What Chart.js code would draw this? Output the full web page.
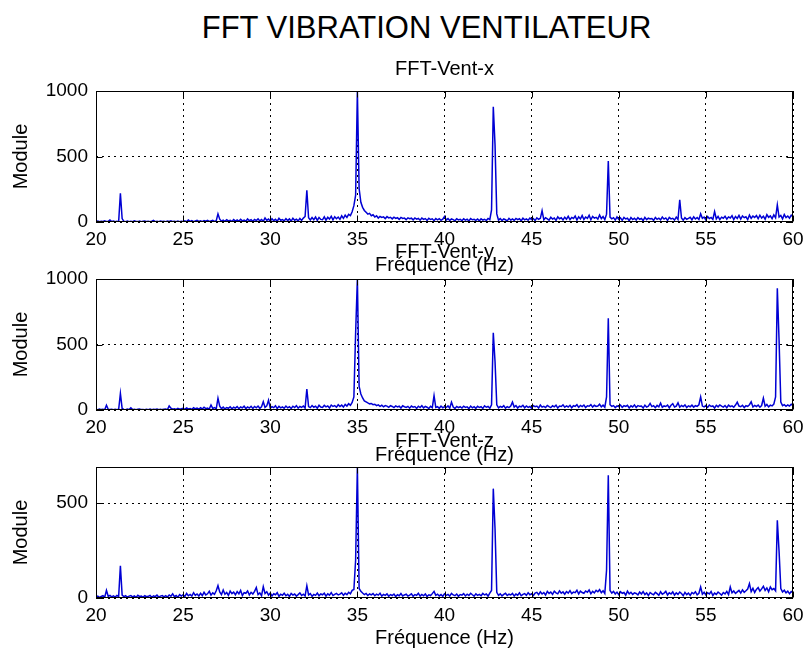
<!DOCTYPE html>
<html>
<head>
<meta charset="utf-8">
<script src="https://cdn.jsdelivr.net/npm/chart.js@4.4.1/dist/chart.umd.min.js"></script>
<style>
  body { margin: 0; background: #fff; }
  #wrap { position: relative; width: 803px; height: 655px; overflow: hidden; background: #fff; }
  #wrap canvas { position: absolute; left: 0; }
  #mainTitle { position: absolute; left: 0; top: 11px; width: 853px; text-align: center;
    font: 31px/34px 'Liberation Sans', Arial, sans-serif; color: #000; }
</style>
</head>
<body>
<div id="wrap">
  <div id="mainTitle">FFT VIBRATION VENTILATEUR</div>
  <canvas id="chartX" width="803" height="220" style="top:57px"></canvas>
  <canvas id="chartY" width="803" height="227" style="top:240px"></canvas>
  <canvas id="chartZ" width="803" height="221" style="top:429px"></canvas>
</div>
<script>
// frequency bins (Hz), one row per Hz
const freq = [
  20,20.1,20.2,20.3,20.4,20.5,20.6,20.7,20.8,20.9,
  21,21.1,21.2,21.3,21.4,21.5,21.6,21.7,21.8,21.9,
  22,22.1,22.2,22.3,22.4,22.5,22.6,22.7,22.8,22.9,
  23,23.1,23.2,23.3,23.4,23.5,23.6,23.7,23.8,23.9,
  24,24.1,24.2,24.3,24.4,24.5,24.6,24.7,24.8,24.9,
  25,25.1,25.2,25.3,25.4,25.5,25.6,25.7,25.8,25.9,
  26,26.1,26.2,26.3,26.4,26.5,26.6,26.7,26.8,26.9,
  27,27.1,27.2,27.3,27.4,27.5,27.6,27.7,27.8,27.9,
  28,28.1,28.2,28.3,28.4,28.5,28.6,28.7,28.8,28.9,
  29,29.1,29.2,29.3,29.4,29.5,29.6,29.7,29.8,29.9,
  30,30.1,30.2,30.3,30.4,30.5,30.6,30.7,30.8,30.9,
  31,31.1,31.2,31.3,31.4,31.5,31.6,31.7,31.8,31.9,
  32,32.1,32.2,32.3,32.4,32.5,32.6,32.7,32.8,32.9,
  33,33.1,33.2,33.3,33.4,33.5,33.6,33.7,33.8,33.9,
  34,34.1,34.2,34.3,34.4,34.5,34.6,34.7,34.8,34.9,
  35,35.1,35.2,35.3,35.4,35.5,35.6,35.7,35.8,35.9,
  36,36.1,36.2,36.3,36.4,36.5,36.6,36.7,36.8,36.9,
  37,37.1,37.2,37.3,37.4,37.5,37.6,37.7,37.8,37.9,
  38,38.1,38.2,38.3,38.4,38.5,38.6,38.7,38.8,38.9,
  39,39.1,39.2,39.3,39.4,39.5,39.6,39.7,39.8,39.9,
  40,40.1,40.2,40.3,40.4,40.5,40.6,40.7,40.8,40.9,
  41,41.1,41.2,41.3,41.4,41.5,41.6,41.7,41.8,41.9,
  42,42.1,42.2,42.3,42.4,42.5,42.6,42.7,42.8,42.9,
  43,43.1,43.2,43.3,43.4,43.5,43.6,43.7,43.8,43.9,
  44,44.1,44.2,44.3,44.4,44.5,44.6,44.7,44.8,44.9,
  45,45.1,45.2,45.3,45.4,45.5,45.6,45.7,45.8,45.9,
  46,46.1,46.2,46.3,46.4,46.5,46.6,46.7,46.8,46.9,
  47,47.1,47.2,47.3,47.4,47.5,47.6,47.7,47.8,47.9,
  48,48.1,48.2,48.3,48.4,48.5,48.6,48.7,48.8,48.9,
  49,49.1,49.2,49.3,49.4,49.5,49.6,49.7,49.8,49.9,
  50,50.1,50.2,50.3,50.4,50.5,50.6,50.7,50.8,50.9,
  51,51.1,51.2,51.3,51.4,51.5,51.6,51.7,51.8,51.9,
  52,52.1,52.2,52.3,52.4,52.5,52.6,52.7,52.8,52.9,
  53,53.1,53.2,53.3,53.4,53.5,53.6,53.7,53.8,53.9,
  54,54.1,54.2,54.3,54.4,54.5,54.6,54.7,54.8,54.9,
  55,55.1,55.2,55.3,55.4,55.5,55.6,55.7,55.8,55.9,
  56,56.1,56.2,56.3,56.4,56.5,56.6,56.7,56.8,56.9,
  57,57.1,57.2,57.3,57.4,57.5,57.6,57.7,57.8,57.9,
  58,58.1,58.2,58.3,58.4,58.5,58.6,58.7,58.8,58.9,
  59,59.1,59.2,59.3,59.4,59.5,59.6,59.7,59.8,59.9,
  60
];

// FFT-Vent-x
const moduleX = [
  3,8,2,6,4,9,3,5,16,4,
  7,2,6,3,220,26,5,2,8,3,
  6,2,9,4,3,7,2,5,8,3,
  5,2,7,13,3,6,2,8,4,6,
  2,7,4,9,3,5,2,8,3,6,
  4,9,3,16,5,10,3,8,12,4,
  9,3,11,6,13,4,8,12,5,10,
  62,22,6,14,5,17,8,13,4,19,
  7,16,5,21,9,15,6,23,10,18,
  6,20,11,24,8,19,5,31,12,22,
  7,25,10,21,6,28,13,19,8,26,
  11,24,7,29,14,22,9,27,12,30,
  42,242,33,15,34,18,38,12,35,20,
  17,39,14,36,22,43,16,40,25,38,
  20,47,28,52,35,58,49,78,125,205,
  1000,255,150,112,88,74,60,66,48,55,
  38,47,30,42,35,39,26,41,31,36,
  24,37,28,33,20,35,27,30,18,32,
  25,29,16,31,22,27,14,30,20,26,
  12,28,19,24,10,27,17,25,13,22,
  42,15,26,11,23,18,9,25,16,21,
  10,24,14,22,8,26,17,20,12,23,
  9,25,15,21,11,27,18,92,880,590,
  62,14,26,11,24,17,9,28,15,23,
  12,27,18,25,10,29,16,24,13,30,
  19,26,11,31,21,28,86,17,33,24,
  14,36,22,30,12,39,25,32,16,37,
  21,43,18,35,27,46,15,40,24,49,
  19,38,28,51,17,42,30,36,22,53,
  26,41,18,60,465,37,24,33,14,39,
  20,31,12,35,23,29,10,34,19,28,
  15,33,21,27,11,36,18,30,24,26,
  13,34,20,29,16,38,22,31,12,35,
  24,28,15,37,19,170,30,14,33,21,
  27,36,17,40,23,34,19,62,28,38,
  15,41,26,35,20,80,24,43,18,37,
  29,44,21,39,31,48,19,42,27,51,
  22,46,33,40,18,53,28,45,35,49,
  25,52,30,44,21,56,36,47,26,54,
  32,130,38,50,24,57,34,46,29,52,
  41
];

// FFT-Vent-y
const moduleY = [
  4,2,7,3,5,2,36,6,3,5,
  2,6,3,4,126,12,4,2,7,3,
  16,3,6,2,5,8,3,4,2,6,
  3,7,2,5,4,8,2,6,3,5,
  7,3,31,14,6,10,4,12,7,9,
  13,5,16,8,11,4,18,9,14,6,
  17,8,21,10,15,7,38,12,19,9,
  90,30,11,22,8,19,13,25,9,21,
  14,26,10,23,16,29,11,24,15,28,
  12,27,17,30,13,25,63,20,31,75,
  14,26,18,32,11,28,16,24,13,30,
  17,25,12,29,19,33,14,27,20,31,
  15,160,26,18,34,21,29,14,36,23,
  19,35,24,31,16,38,27,33,21,40,
  26,37,22,43,30,48,36,58,100,590,
  1000,180,122,92,70,62,54,47,50,41,
  44,33,39,28,36,24,34,30,21,33,
  27,18,31,23,29,15,32,25,20,28,
  14,30,22,26,12,29,19,33,16,27,
  21,11,28,18,110,20,25,13,30,17,
  24,19,31,14,60,22,12,27,18,25,
  15,29,20,24,11,30,17,26,13,28,
  19,25,12,31,21,27,14,40,590,370,
  40,16,28,21,33,14,26,18,30,60,
  22,34,15,29,24,36,17,31,20,27,
  13,33,25,30,16,38,22,28,19,35,
  26,18,32,24,37,15,30,27,39,21,
  31,23,36,17,33,28,40,20,35,26,
  38,19,32,29,41,22,36,27,30,44,
  24,37,21,100,700,40,28,34,18,31,
  25,38,20,33,27,36,16,32,23,39,
  19,34,28,30,15,37,22,29,50,26,
  33,18,35,24,52,20,31,27,38,17,
  36,48,23,30,55,21,34,26,39,19,
  32,25,37,22,33,28,40,100,30,24,
  35,20,38,27,31,16,36,24,39,29,
  22,34,18,37,26,32,21,38,60,30,
  25,36,19,33,28,40,62,23,35,27,
  38,21,34,90,29,42,24,37,31,45,
  100,930,535,60,33,41,28,38,30,44,
  36
];

// FFT-Vent-z
const moduleZ = [
  5,10,3,8,12,4,40,9,14,6,
  11,5,13,8,170,15,7,12,4,10,
  13,6,11,3,14,8,10,5,12,7,
  9,14,4,11,7,15,5,10,13,6,
  12,5,16,9,22,7,13,4,18,10,
  17,8,24,12,19,10,28,14,21,11,
  25,13,30,16,22,35,15,27,19,38,
  65,32,18,42,20,29,14,36,23,31,
  17,34,22,40,13,28,25,37,16,30,
  21,35,55,18,27,12,60,24,33,15,
  26,11,22,17,28,9,20,14,25,12,
  19,8,24,15,21,10,18,27,13,20,
  11,65,16,23,9,19,14,26,12,21,
  17,25,10,22,15,28,13,19,24,16,
  20,27,14,25,18,30,22,40,45,200,
  690,50,35,26,18,24,13,21,16,23,
  12,20,15,25,10,19,14,22,9,18,
  13,21,8,17,12,24,11,16,20,10,
  15,22,9,18,14,25,10,19,12,21,
  8,17,13,23,35,14,20,11,18,9,
  22,14,19,10,24,16,12,21,9,18,
  15,23,11,20,13,25,17,10,22,14,
  19,12,24,16,21,10,26,40,576,365,
  30,14,22,11,19,25,13,20,16,24,
  10,21,15,27,12,19,23,14,28,17,
  22,13,26,30,18,33,21,29,16,35,
  24,31,19,36,27,22,38,25,32,20,
  34,26,39,23,31,28,41,21,36,29,
  25,37,30,42,22,35,27,40,33,44,
  28,38,24,146,646,40,26,35,21,31,
  18,33,25,29,15,36,22,30,19,27,
  24,16,31,21,34,18,27,13,29,22,
  17,30,23,14,33,20,26,35,16,28,
  21,32,15,27,19,31,24,12,30,18,
  26,14,29,22,33,17,25,58,20,30,
  16,28,21,34,13,26,19,31,24,15,
  29,22,35,18,58,27,37,24,32,40,
  26,43,30,38,47,76,34,51,29,45,
  55,36,48,62,40,53,33,58,44,50,
  38,409,247,50,32,41,27,36,22,34,
  29
];

const xTicks = [20, 25, 30, 35, 40, 45, 50, 55, 60];
const yTicksX = [0, 500, 1000];
const yTicksY = [0, 500, 1000];
const yTicksZ = [0, 500];

Chart.defaults.font.family = "'Liberation Sans', Arial, sans-serif";
Chart.defaults.color = '#000';

// matlab style box: black frame with inward ticks
const boxPlugin = {
  id: 'matlabBox',
  afterDraw(chart) {
    const ctx = chart.ctx;
    const a = chart.chartArea;
    const xs = chart.scales.x, ys = chart.scales.y;
    const L = Math.round(a.left) + 0.5, R = Math.round(a.right) - 0.5;
    const T = Math.round(a.top) + 0.5, B = Math.round(a.bottom) - 0.5;
    ctx.save();
    ctx.strokeStyle = '#000';
    ctx.lineWidth = 1;
    ctx.beginPath();
    xs.ticks.forEach(t => {
      const px = Math.round(xs.getPixelForValue(t.value)) + 0.5;
      ctx.moveTo(px, B); ctx.lineTo(px, B - 6);
      ctx.moveTo(px, T); ctx.lineTo(px, T + 6);
    });
    ys.ticks.forEach(t => {
      const py = Math.round(ys.getPixelForValue(t.value)) + 0.5;
      ctx.moveTo(L, py); ctx.lineTo(L + 6, py);
      ctx.moveTo(R, py); ctx.lineTo(R - 6, py);
    });
    ctx.stroke();
    ctx.strokeRect(L, T, R - L, B - T);
    ctx.restore();
  }
};

function makeChart(id, title, values, yMax, yTicks, titlePad, xAxisHeight) {
  const points = freq.map((f, i) => ({ x: f, y: values[i] }));
  return new Chart(document.getElementById(id), {
    type: 'line',
    data: {
      datasets: [{
        data: points,
        borderColor: '#0000d4',
        borderWidth: 1.5,
        pointRadius: 0,
        tension: 0,
        fill: false
      }]
    },
    options: {
      responsive: false,
      animation: false,
      layout: { padding: { left: 0, right: 10, top: 0, bottom: 0 } },
      plugins: {
        legend: { display: false },
        tooltip: { enabled: false },
        title: {
          display: true,
          text: title,
          fullSize: false,
          color: '#000',
          font: { size: 20, weight: 'normal' },
          padding: { top: 0, bottom: titlePad }
        }
      },
      scales: {
        x: {
          type: 'linear',
          min: 20,
          max: 60,
          afterBuildTicks: s => { s.ticks = xTicks.map(v => ({ value: v })); },
          afterFit: s => { s.height = xAxisHeight; s.paddingLeft = 0; s.paddingRight = 0; },
          ticks: { font: { size: 19 }, padding: 6, maxRotation: 0, color: '#000', callback: v => String(v) },
          grid: { color: '#000', lineWidth: 1, drawTicks: false },
          border: { display: false, dash: [2, 4] },
          title: { display: true, text: 'Fréquence (Hz)', font: { size: 20 }, color: '#000', padding: { top: 0, bottom: 0 } }
        },
        y: {
          min: 0,
          max: yMax,
          afterBuildTicks: s => { s.ticks = yTicks.map(v => ({ value: v })); },
          afterFit: s => { s.width = 96; s.paddingTop = 0; s.paddingBottom = 0; },
          ticks: { font: { size: 19 }, padding: 8, color: '#000', callback: v => String(v) },
          grid: { color: '#000', lineWidth: 1, drawTicks: false },
          border: { display: false, dash: [2, 4] },
          title: { display: true, text: 'Module', font: { size: 20 }, color: '#000', padding: { top: 9, bottom: 0 } }
        }
      }
    },
    plugins: [boxPlugin]
  });
}

makeChart('chartX', 'FFT-Vent-x', moduleX, 1000, yTicksX, 10, 55);
makeChart('chartY', 'FFT-Vent-y', moduleY, 1000, yTicksY, 15, 57);
makeChart('chartZ', 'FFT-Vent-z', moduleZ, 690, yTicksZ, 14, 52);
</script>
</body>
</html>
